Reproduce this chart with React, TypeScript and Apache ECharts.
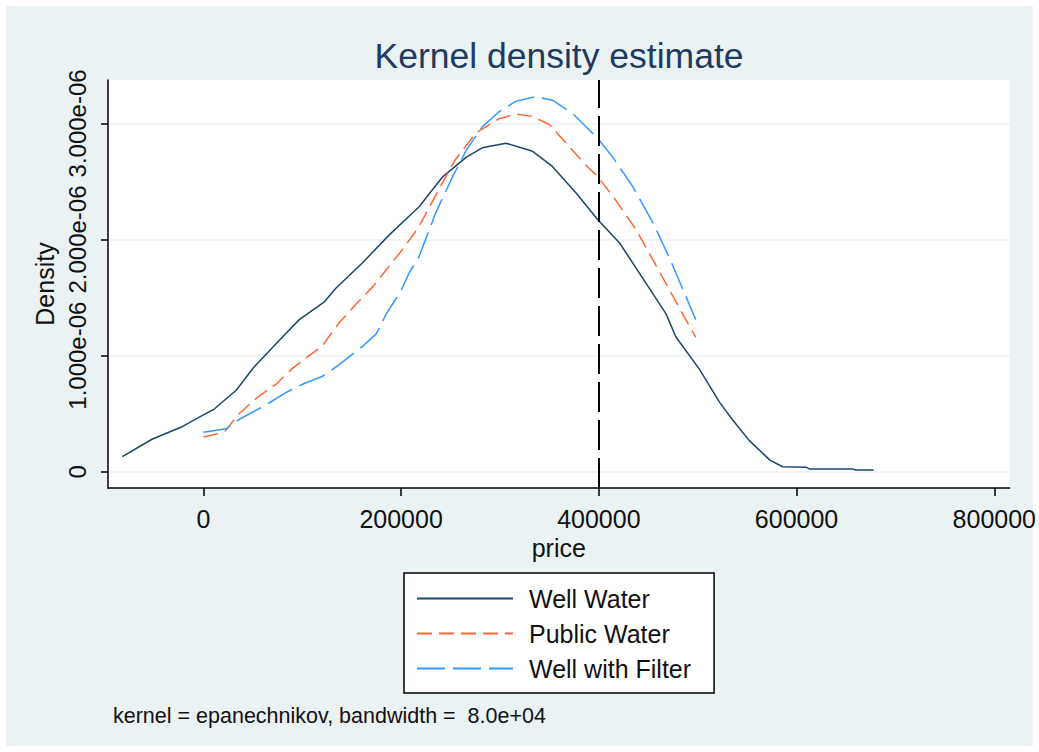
import React, { useEffect, useRef } from "react";
import * as echarts from "echarts";

// Kernel density estimates of price (density values in units of 1e-6)
const wellWaterPrice = [
  -82000, -52000, -21000, 0, 11000, 26000, 33000, 51000, 80000, 97000,
  122000, 134000, 161000, 188000, 208000, 218000, 242000, 266000, 282000,
  306000, 333000, 353000, 377000, 399000, 421000, 448000, 468000, 478000,
  502000, 522000, 535000, 552000, 573000, 586000, 610000, 613000, 657000,
  660000, 678000,
];
const wellWaterDensity = [
  0.13, 0.28, 0.39, 0.49, 0.54, 0.65, 0.7, 0.9, 1.16, 1.31,
  1.46, 1.58, 1.8, 2.04, 2.2, 2.28, 2.54, 2.71, 2.79,
  2.83, 2.76, 2.63, 2.4, 2.17, 1.97, 1.62, 1.36, 1.16,
  0.88, 0.6, 0.45, 0.27, 0.1, 0.043, 0.038, 0.024, 0.023,
  0.015, 0.015,
];

const publicWaterPrice = [
  0, 11000, 22000, 36000, 56000, 73000, 90000, 107000, 120000, 137000,
  154000, 171000, 185000, 200000, 218000, 238000, 255000, 276000, 299000,
  316000, 333000, 350000, 370000, 387000, 399000, 417000, 438000, 455000,
  475000, 488000, 498000,
];
const publicWaterDensity = [
  0.3, 0.32, 0.35, 0.5, 0.65, 0.75, 0.89, 1.0, 1.08, 1.28,
  1.44, 1.59, 1.74, 1.9, 2.11, 2.43, 2.69, 2.92, 3.04,
  3.08, 3.06, 2.99, 2.8, 2.64, 2.54, 2.34, 2.08, 1.82,
  1.51, 1.31, 1.16,
];

const filterPrice = [
  0, 23000, 36000, 60000, 83000, 102000, 120000, 137000, 161000, 175000,
  185000, 200000, 208000, 218000, 235000, 252000, 266000, 282000, 299000,
  316000, 336000, 353000, 373000, 399000, 414000, 434000, 455000, 471000,
  485000, 498000,
];
const filterDensity = [
  0.34, 0.37, 0.45, 0.56, 0.68, 0.76, 0.82, 0.92, 1.08, 1.19,
  1.36, 1.56, 1.71, 1.85, 2.23, 2.54, 2.77, 2.97, 3.1,
  3.19, 3.23, 3.2, 3.09, 2.87, 2.71, 2.46, 2.14, 1.85,
  1.57, 1.31,
];

const seriesNames = ["Well Water", "Public Water", "Well with Filter"];
const xTicks = [0, 200000, 400000, 600000, 800000];
const yTicks = [0, 1e-6, 2e-6, 3e-6];
const referencePrice = 400000;
const noteText = "kernel = epanechnikov, bandwidth =  8.0e+04";

const FONT = '"Liberation Sans", Arial, sans-serif';
const DENSITY_UNIT = 1e-6;

const toPoints = (xs: number[], ys: number[]) =>
  xs.map((x, i) => [x, ys[i] * DENSITY_UNIT]);

// Stata-style scientific labels: 1.000e-06
const sciLabel = (v: number) => {
  if (v === 0) return "0";
  const [mant, exp] = v.toExponential(3).split("e");
  const sign = exp[0];
  const digits = exp.slice(1).padStart(2, "0");
  return `${mant}e${sign}${digits}`;
};

export default function App() {
  const ref = useRef<HTMLDivElement>(null);

  useEffect(() => {
    if (!ref.current) return;
    const chart = echarts.init(ref.current, undefined, { renderer: "svg" });

    const option: echarts.EChartsOption = {
      animation: false,
      backgroundColor: "transparent",
      textStyle: { fontFamily: FONT },
      title: [
        {
          text: "Kernel density estimate",
          left: 559,
          top: 38,
          textAlign: "center",
          padding: 0,
          textStyle: {
            fontFamily: FONT,
            fontSize: 35.5,
            fontWeight: "normal",
            color: "#1f3a60",
          },
        },
        {
          text: noteText,
          left: 113,
          top: 705,
          padding: 0,
          textStyle: {
            fontFamily: FONT,
            fontSize: 21.5,
            fontWeight: "normal",
            color: "#111",
          },
        },
      ],
      legend: {
        orient: "vertical",
        left: 404,
        top: 573,
        data: seriesNames,
        selectedMode: false,
        backgroundColor: "#fff",
        borderColor: "#000",
        borderWidth: 1.5,
        borderRadius: 0,
        padding: [13, 23, 12, 12],
        itemWidth: 96,
        itemHeight: 25,
        itemGap: 10,
        itemStyle: { opacity: 0 },
        textStyle: {
          fontFamily: FONT,
          fontSize: 25,
          color: "#111",
          padding: [0, 0, 0, 11],
        },
      },
      grid: {
        left: 108,
        top: 80,
        right: 29,
        bottom: 264,
        show: true,
        backgroundColor: "#fff",
        borderWidth: 0,
      },
      xAxis: {
        type: "value",
        min: -96500,
        max: 815500,
        name: "price",
        nameLocation: "middle",
        nameGap: 45,
        nameTextStyle: { fontFamily: FONT, fontSize: 25, color: "#111" },
        axisLine: {
          show: true,
          onZero: false,
          lineStyle: { color: "#000", width: 1.5 },
        },
        axisTick: {
          show: true,
          length: 8,
          lineStyle: { color: "#000", width: 1.5 },
          customValues: xTicks,
        },
        axisLabel: {
          margin: 18,
          fontFamily: FONT,
          fontSize: 25,
          color: "#111",
          customValues: xTicks,
          formatter: (v: number) => String(v),
        },
        splitLine: { show: false },
      },
      yAxis: {
        type: "value",
        min: -0.14e-6,
        max: 3.374e-6,
        name: "Density",
        nameLocation: "middle",
        nameGap: 50,
        nameTextStyle: { fontFamily: FONT, fontSize: 25, color: "#111" },
        axisLine: {
          show: true,
          onZero: false,
          lineStyle: { color: "#000", width: 1.5 },
        },
        axisTick: {
          show: true,
          length: 7,
          lineStyle: { color: "#000", width: 1.5 },
          customValues: yTicks,
        },
        axisLabel: {
          margin: 19,
          rotate: 90,
          fontFamily: FONT,
          fontSize: 24,
          color: "#111",
          customValues: yTicks,
          formatter: (v: number) => sciLabel(v),
        },
        splitLine: {
          show: true,
          lineStyle: { color: "#eaf2f3", width: 1.5 },
        },
      },
      series: [
        {
          name: seriesNames[0],
          type: "line",
          symbol: "none",
          data: toPoints(wellWaterPrice, wellWaterDensity),
          lineStyle: { color: "#1a476f", width: 1.5 },
          itemStyle: { color: "#1a476f" },
          z: 3,
          markLine: {
            silent: true,
            symbol: ["none", "none"],
            label: { show: false },
            lineStyle: { color: "#000", width: 2, type: [30, 8] },
            data: [{ xAxis: referencePrice }],
          },
        },
        {
          name: seriesNames[1],
          type: "line",
          symbol: "none",
          data: toPoints(publicWaterPrice, publicWaterDensity),
          lineStyle: { color: "#ff6633", width: 1.5, type: [15, 7] },
          itemStyle: { color: "#ff6633" },
          z: 3,
        },
        {
          name: seriesNames[2],
          type: "line",
          symbol: "none",
          data: toPoints(filterPrice, filterDensity),
          lineStyle: { color: "#3399ff", width: 1.5, type: [28, 8] },
          itemStyle: { color: "#3399ff" },
          z: 3,
        },
      ],
    };

    chart.setOption(option);
    return () => chart.dispose();
  }, []);

  return (
    <div
      style={{
        position: "fixed",
        left: 0,
        top: 0,
        width: 1039,
        height: 752,
        background: "#fff",
      }}
    >
      <div
        style={{
          position: "absolute",
          left: 6,
          top: 6,
          width: 1027,
          height: 740,
          background: "#eaf2f3",
        }}
      />
      <div
        ref={ref}
        style={{ position: "absolute", left: 0, top: 0, width: 1039, height: 752 }}
      />
    </div>
  );
}
